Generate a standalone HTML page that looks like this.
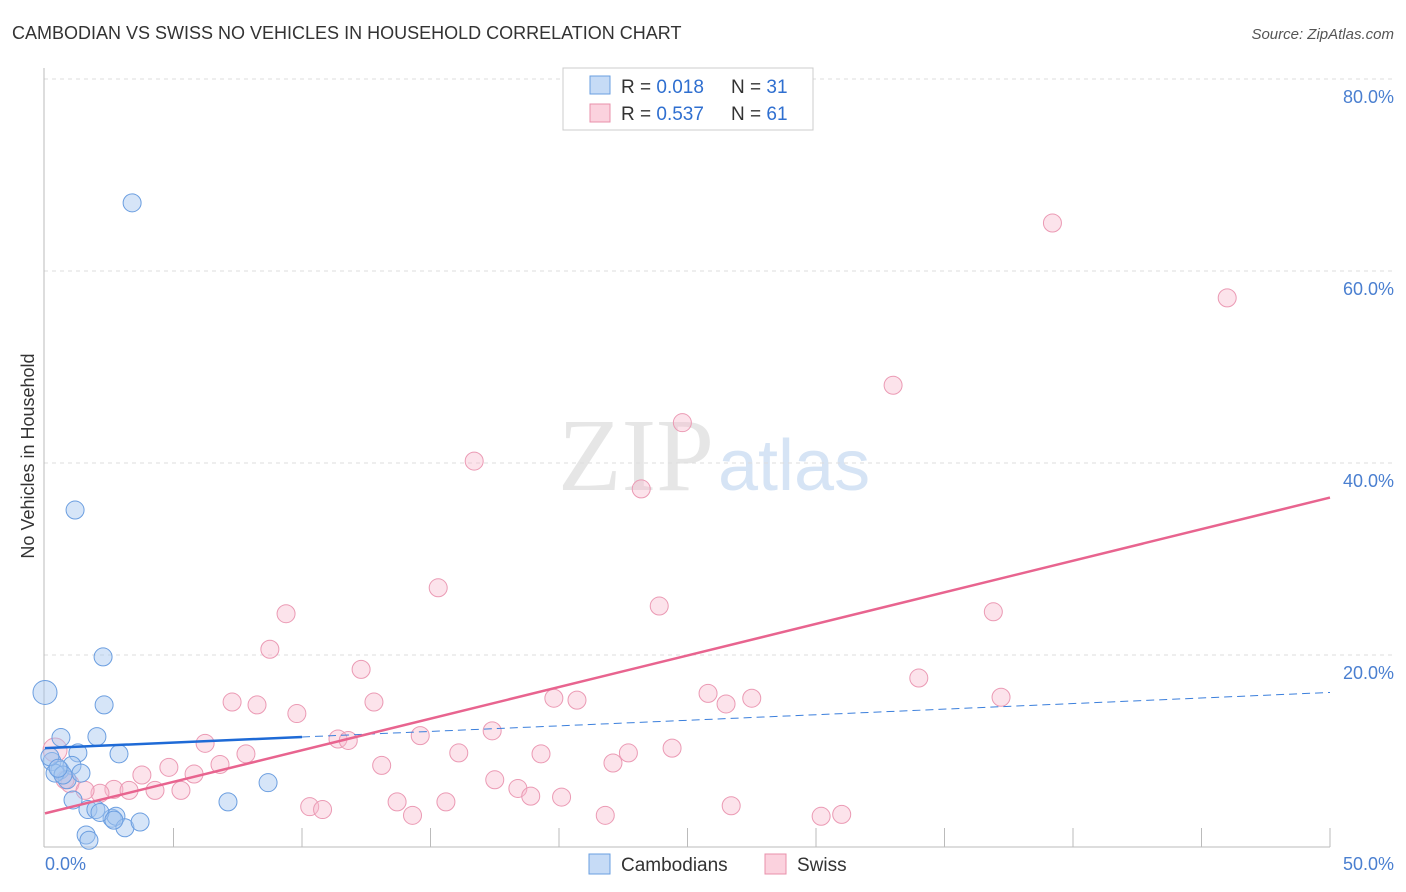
<!DOCTYPE html>
<html><head><meta charset="utf-8"><style>
body{margin:0;background:#fff;font-family:"Liberation Sans",sans-serif;}
svg{display:block}
</style></head><body>
<svg width="1406" height="892" font-family="Liberation Sans, sans-serif">
<text x="12" y="39" font-size="18" fill="#333">CAMBODIAN VS SWISS NO VEHICLES IN HOUSEHOLD CORRELATION CHART</text>
<text x="1394" y="39" font-size="15" fill="#555" font-style="italic" text-anchor="end">Source: ZipAtlas.com</text>
<text x="714" y="490" font-size="104" fill="#e6e6e6" text-anchor="end" font-family="Liberation Serif, serif">ZIP</text>
<text x="718" y="490" font-size="72" fill="#d6e4f5">atlas</text>
<g id="grid"></g>
<g id="ticks"></g>
<line x1="44" y1="68" x2="44" y2="847" stroke="#bbb"/>
<line x1="44" y1="847" x2="1330" y2="847" stroke="#bbb"/>
<text x="45" y="870" font-size="18" fill="#4a7fd0">0.0%</text>
<text x="1394" y="870" font-size="18" fill="#4a7fd0" text-anchor="end">50.0%</text>
<text transform="translate(34,456) rotate(-90)" font-size="18" fill="#333" text-anchor="middle">No Vehicles in Household</text>
<g id="pts"></g>
<g id="lines"></g>
<g>
<rect x="563" y="68" width="250" height="62" fill="#fff" stroke="#ccc"/>
<rect x="590" y="76" width="20" height="18" fill="rgba(160,195,240,0.6)" stroke="#6a9fe0"/>
<rect x="590" y="104" width="20" height="18" fill="rgba(248,180,200,0.6)" stroke="#e890ab"/>
<text x="621" y="93" font-size="19" fill="#333">R = <tspan fill="#2f6fd0">0.018</tspan></text>
<text x="731" y="93" font-size="19" fill="#333">N = <tspan fill="#2f6fd0">31</tspan></text>
<text x="621" y="120" font-size="19" fill="#333">R = <tspan fill="#2f6fd0">0.537</tspan></text>
<text x="731" y="120" font-size="19" fill="#333">N = <tspan fill="#2f6fd0">61</tspan></text>
</g>
<g>
<rect x="589" y="854" width="21" height="20" fill="rgba(160,195,240,0.6)" stroke="#6a9fe0"/>
<text x="621" y="871" font-size="19" fill="#333">Cambodians</text>
<rect x="765" y="854" width="21" height="20" fill="rgba(248,180,200,0.6)" stroke="#e890ab"/>
<text x="797" y="871" font-size="19" fill="#333">Swiss</text>
</g>
</svg>
<script>
const blueX=[3.39,1.17,0,2.26,2.30,0.62,2.02,2.88,1.28,0.27,0.58,1.05,0.86,1.40,0.39,1.09,1.67,1.98,2.61,2.76,3.11,3.70,1.60,1.71,7.12,8.68,0.19,0.70,0.51,2.14,2.68];
const blueY=[67.1,35.1,16.1,19.8,14.8,11.4,11.5,9.7,9.8,8.9,8.0,8.5,7.0,7.7,7.7,4.9,3.9,3.9,3.0,3.2,2.0,2.6,1.25,0.7,4.7,6.7,9.4,7.5,8.2,3.6,2.8];
const pinkX=[39.2,46.0,33.0,24.8,16.7,23.2,15.3,23.9,36.9,9.38,8.75,12.3,34.0,7.28,12.8,8.25,19.8,20.7,25.8,27.5,26.5,37.2,9.8,17.4,11.4,11.8,14.6,6.23,7.82,16.1,19.3,22.7,24.4,22.1,13.1,6.81,4.82,3.77,5.80,17.5,18.4,18.9,20.1,10.3,10.8,13.7,15.6,14.3,21.8,26.7,30.2,31.0,2.68,3.27,4.28,5.29,2.14,0.97,0.39,0.78,1.56];
const pinkY=[65.0,57.2,48.1,44.2,40.2,37.3,27.0,25.1,24.5,24.3,20.6,18.5,17.6,15.1,15.1,14.8,15.5,15.3,16.0,15.5,14.9,15.6,13.9,12.1,11.25,11.1,11.6,10.8,9.7,9.8,9.7,9.8,10.3,8.75,8.5,8.6,8.3,7.5,7.6,7.0,6.1,5.3,5.2,4.2,3.9,4.7,4.7,3.3,3.3,4.3,3.2,3.4,6.0,5.9,5.9,5.9,5.6,6.6,10.1,7.0,5.9];
const yTicks=[20,40,60,80];
const blueTrend=[10.3,16.1];
const pinkTrend=[3.5,36.4];
const NS='http://www.w3.org/2000/svg';
const sx=v=>45+v*25.7, sy=v=>847-v*9.6;
function mk(t,a,p){const e=document.createElementNS(NS,t);for(const k in a)e.setAttribute(k,a[k]);document.getElementById(p).appendChild(e);return e;}
yTicks.forEach(t=>{
 const l=mk('line',{x1:44,x2:1394,y1:sy(t),y2:sy(t),stroke:'#ddd','stroke-dasharray':'4,4'},'grid');
 
 
 const tx=mk('text',{x:1394,y:sy(t)+24,'font-size':18,fill:'#4a7fd0','text-anchor':'end'},'ticks');
 tx.textContent=t.toFixed(1)+'%';
 
 
});
for(let i=1;i<=10;i++){const l=mk('line',{x1:45+128.5*i,x2:45+128.5*i,y1:828,y2:847,stroke:'#bbb'},'grid');
 
 }
pinkX.forEach((x,i)=>{const c=mk('circle',{cx:sx(x),cy:sy(pinkY[i]),r:(i==58?12:9),fill:'rgba(248,185,205,0.4)',stroke:'#eb9ab4','stroke-width':1},'pts');
 
 });
blueX.forEach((x,i)=>{const c=mk('circle',{cx:sx(x),cy:sy(blueY[i]),r:(i==2?12:9),fill:'rgba(165,198,240,0.45)',stroke:'#6b9ee0','stroke-width':1},'pts');
 
 });
const by=x=>blueTrend[0]+(blueTrend[1]-blueTrend[0])*x/50;
let l1=mk('line',{x1:sx(0),y1:sy(by(0)),x2:sx(10),y2:sy(by(10)),stroke:'#1e6ad6','stroke-width':2.5},'lines');


let l2=mk('line',{x1:sx(10),y1:sy(by(10)),x2:sx(50),y2:sy(by(50)),stroke:'#3b7fdc','stroke-width':1,'stroke-dasharray':'8,5'},'lines');


let l3=mk('line',{x1:sx(0),y1:sy(pinkTrend[0]),x2:sx(50),y2:sy(pinkTrend[1]),stroke:'#e8648f','stroke-width':2.5},'lines');


</script>
</body></html>
